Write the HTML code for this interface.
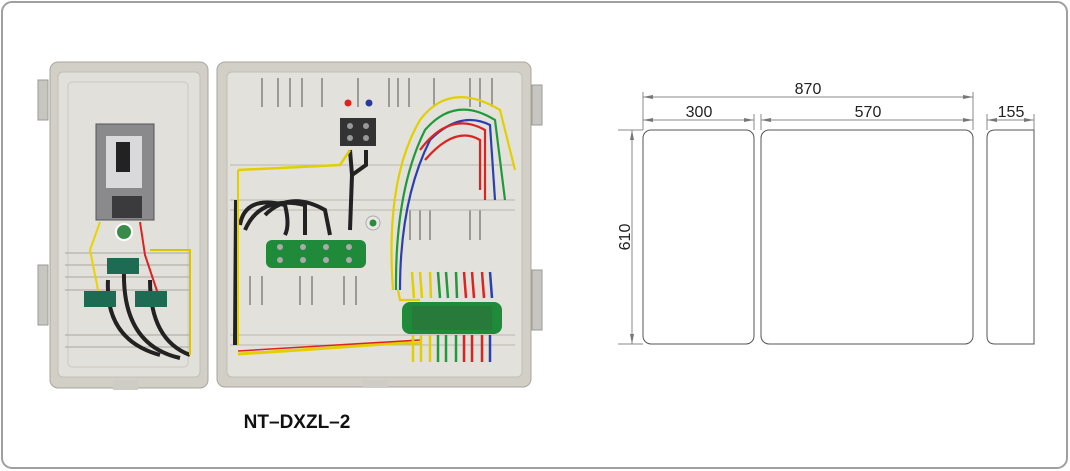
<!DOCTYPE html>
<html><head><meta charset="utf-8"><style>
html,body{margin:0;padding:0;background:#fff}
body{width:1070px;height:471px;overflow:hidden;position:relative;font-family:"Liberation Sans",sans-serif}
</style></head><body>
<svg width="1070" height="471" viewBox="0 0 1070 471" xmlns="http://www.w3.org/2000/svg" style="position:absolute;left:0;top:0">
<rect x="2" y="2" width="1065" height="466" rx="10" fill="#fff" stroke="#a0a0a0" stroke-width="2"/>
<rect x="50" y="62" width="158" height="326" rx="8" fill="#d2cfc7" stroke="#a9a69e"/>
<rect x="58" y="72" width="142" height="305" rx="5" fill="#e2e0da" stroke="#c2bfb7"/>
<rect x="68" y="82" width="120" height="285" rx="4" fill="none" stroke="#cac7c0"/>
<g stroke="#a9a6a0" stroke-width="1"><line x1="65" y1="253" x2="190" y2="253"/><line x1="65" y1="265" x2="190" y2="265"/><line x1="65" y1="277" x2="190" y2="277"/><line x1="65" y1="290" x2="190" y2="290"/><line x1="65" y1="335" x2="190" y2="335"/><line x1="65" y1="347" x2="190" y2="347"/></g>
<rect x="96" y="124" width="58" height="96" fill="#8a8a8c" stroke="#555"/>
<rect x="106" y="136" width="36" height="52" fill="#d9d9dc"/>
<rect x="116" y="142" width="14" height="30" fill="#222"/>
<rect x="112" y="196" width="30" height="22" fill="#3b3b3d"/>
<circle cx="124" cy="232" r="8" fill="#3a8a4a" stroke="#fff" stroke-width="2"/>
<g fill="none" stroke-width="4" stroke="#222"><path d="M108 280 Q105 340 160 355"/><path d="M124 270 Q122 345 180 358"/><path d="M150 280 Q150 340 190 355"/></g>
<g fill="none" stroke-width="2"><path d="M100 222 L90 250 L100 300" stroke="#e8d400"/><path d="M140 222 L145 255 L160 300" stroke="#d22"/><path d="M150 250 L190 250 L190 355" stroke="#d8c400"/></g>
<rect x="84" y="291" width="32" height="16" fill="#1e6b54"/>
<rect x="107" y="258" width="32" height="16" fill="#1e6b54"/>
<rect x="135" y="291" width="32" height="16" fill="#1e6b54"/>
<rect x="113" y="380" width="25" height="10" fill="#cfccc5"/>
<rect x="38" y="80" width="10" height="40" fill="#c8c6c0" stroke="#999"/>
<rect x="38" y="265" width="10" height="60" fill="#c8c6c0" stroke="#999"/>
<rect x="217" y="62" width="314" height="325" rx="8" fill="#d2cfc7" stroke="#a9a69e"/>
<rect x="227" y="72" width="295" height="305" rx="5" fill="#e3e1db" stroke="#c2bfb7"/>
<g stroke="#6c6a66" stroke-width="1.2"><line x1="262" y1="78" x2="262" y2="107"/><line x1="278" y1="78" x2="278" y2="107"/><line x1="290" y1="78" x2="290" y2="107"/><line x1="302" y1="78" x2="302" y2="107"/><line x1="322" y1="78" x2="322" y2="107"/><line x1="358" y1="78" x2="358" y2="107"/><line x1="389" y1="78" x2="389" y2="107"/><line x1="398" y1="78" x2="398" y2="107"/><line x1="409" y1="78" x2="409" y2="107"/><line x1="434" y1="78" x2="434" y2="107"/><line x1="470" y1="78" x2="470" y2="107"/><line x1="480" y1="78" x2="480" y2="107"/><line x1="492" y1="78" x2="492" y2="107"/>
<line x1="250" y1="276" x2="250" y2="305"/><line x1="262" y1="276" x2="262" y2="305"/><line x1="300" y1="276" x2="300" y2="305"/><line x1="312" y1="276" x2="312" y2="305"/><line x1="344" y1="276" x2="344" y2="305"/><line x1="356" y1="276" x2="356" y2="305"/><line x1="410" y1="210" x2="410" y2="240"/><line x1="420" y1="210" x2="420" y2="240"/><line x1="430" y1="210" x2="430" y2="240"/><line x1="470" y1="210" x2="470" y2="240"/><line x1="480" y1="210" x2="480" y2="240"/></g>
<g stroke="#b9b6ae"><line x1="230" y1="165" x2="515" y2="165"/><line x1="230" y1="200" x2="515" y2="200"/><line x1="230" y1="210" x2="515" y2="210"/><line x1="230" y1="335" x2="515" y2="335"/><line x1="230" y1="345" x2="515" y2="345"/></g>
<circle cx="348" cy="103" r="3.5" fill="#d22"/><circle cx="369" cy="103" r="3.5" fill="#2a3a9a"/>
<rect x="340" y="118" width="36" height="28" fill="#333"/>
<circle cx="350" cy="126" r="3" fill="#999"/><circle cx="366" cy="126" r="3" fill="#999"/><circle cx="350" cy="138" r="3" fill="#999"/><circle cx="366" cy="138" r="3" fill="#999"/>
<g fill="none" stroke="#222" stroke-width="4"><path d="M240 225 Q245 195 285 205 Q290 225 285 235"/><path d="M245 230 Q260 195 305 205 L305 235"/><path d="M265 215 Q290 190 325 210 L330 235"/><path d="M350 150 L352 175 L350 230"/><path d="M366 150 L366 165 L352 175"/><path d="M236 200 L235 345"/></g>
<path d="M238 170 L340 165 L350 150" fill="none" stroke="#e2cf00" stroke-width="2.5"/>
<path d="M238 170 L238 345" fill="none" stroke="#e2cf00" stroke-width="2"/>
<path d="M238 354 L300 350 L400 343 L420 343" fill="none" stroke="#e2cf00" stroke-width="3"/>
<path d="M238 351 L420 340" fill="none" stroke="#d22" stroke-width="1.5"/>
<rect x="266" y="240" width="100" height="28" rx="6" fill="#1f8a3a"/>
<g fill="#aaa"><circle cx="280" cy="247" r="3"/><circle cx="303" cy="247" r="3"/><circle cx="326" cy="247" r="3"/><circle cx="349" cy="247" r="3"/><circle cx="280" cy="260" r="3"/><circle cx="303" cy="260" r="3"/><circle cx="326" cy="260" r="3"/><circle cx="349" cy="260" r="3"/></g>
<circle cx="373" cy="223" r="7" fill="#e8e8e8" stroke="#aaa"/><circle cx="373" cy="223" r="3.5" fill="#2c8a3a"/>
<g fill="none" stroke-width="2.2"><path d="M393 290 Q385 180 420 120 Q450 80 500 110 L515 170" stroke="#e2cf00"/><path d="M396 290 Q395 190 425 130 Q455 95 495 120 L505 200" stroke="#1f9a3a"/><path d="M400 290 Q400 200 430 140 Q460 110 490 125 L495 200" stroke="#2a40b0"/><path d="M420 150 Q450 110 485 130 L485 200" stroke="#d22"/><path d="M425 160 Q455 125 480 140 L480 190" stroke="#d22"/><path d="M398 290 L400 300 L420 300" stroke="#e2cf00"/></g>
<g stroke-width="2.5"><line x1="412" y1="272" x2="414" y2="298" stroke="#e2cf00"/><line x1="420" y1="272" x2="422" y2="298" stroke="#e2cf00"/><line x1="430" y1="272" x2="431" y2="298" stroke="#e2cf00"/><line x1="438" y1="272" x2="440" y2="298" stroke="#1f9a3a"/><line x1="446" y1="272" x2="448" y2="298" stroke="#1f9a3a"/><line x1="456" y1="272" x2="457" y2="298" stroke="#1f9a3a"/><line x1="464" y1="272" x2="466" y2="298" stroke="#d22"/><line x1="472" y1="272" x2="474" y2="298" stroke="#d22"/><line x1="482" y1="272" x2="484" y2="298" stroke="#d22"/><line x1="490" y1="272" x2="492" y2="298" stroke="#2a40b0"/>
<line x1="413" y1="335" x2="413" y2="362" stroke="#e2cf00"/><line x1="421" y1="335" x2="421" y2="362" stroke="#e2cf00"/><line x1="430" y1="335" x2="430" y2="362" stroke="#e2cf00"/><line x1="438" y1="335" x2="438" y2="362" stroke="#1f9a3a"/><line x1="446" y1="335" x2="446" y2="362" stroke="#1f9a3a"/><line x1="456" y1="335" x2="456" y2="362" stroke="#1f9a3a"/><line x1="464" y1="335" x2="464" y2="362" stroke="#d22"/><line x1="472" y1="335" x2="472" y2="362" stroke="#d22"/><line x1="482" y1="335" x2="482" y2="362" stroke="#d22"/><line x1="490" y1="335" x2="490" y2="362" stroke="#2a40b0"/></g>
<rect x="402" y="302" width="100" height="32" rx="8" fill="#1f8a3a"/>
<rect x="412" y="306" width="80" height="24" fill="#2e6f3a" opacity="0.6"/>
<rect x="363" y="380" width="25" height="8" fill="#cfccc5"/>
<rect x="532" y="85" width="10" height="40" fill="#c8c6c0" stroke="#999"/>
<rect x="532" y="270" width="10" height="60" fill="#c8c6c0" stroke="#999"/>
<text x="297" y="428" font-family="Liberation Sans, sans-serif" font-size="19" font-weight="bold" text-anchor="middle" fill="#111">NT–DXZL–2</text>
<g fill="none" stroke="#555" stroke-width="1">
<rect x="643" y="130" width="111" height="214" rx="8"/>
<rect x="761" y="130" width="212" height="214" rx="8"/>
<path d="M1034 130 L995 130 Q987 130 987 138 L987 336 Q987 344 995 344 L1034 344 Z"/>
<g stroke="#888"><line x1="643" y1="92" x2="643" y2="130"/><line x1="973" y1="92" x2="973" y2="130"/><line x1="754" y1="114" x2="754" y2="130"/><line x1="761" y1="114" x2="761" y2="130"/><line x1="987" y1="114" x2="987" y2="130"/><line x1="1034" y1="114" x2="1034" y2="130"/><line x1="618" y1="130" x2="643" y2="130"/><line x1="618" y1="344" x2="643" y2="344"/>
<line x1="643" y1="97" x2="973" y2="97"/><line x1="643" y1="120" x2="754" y2="120"/><line x1="761" y1="120" x2="973" y2="120"/><line x1="987" y1="120" x2="1034" y2="120"/><line x1="632" y1="130" x2="632" y2="344"/></g>
</g>
<g fill="#777"><path d="M643 97 l10 -2 v4z"/><path d="M973 97 l-10 -2 v4z"/><path d="M643 120 l10 -2 v4z"/><path d="M754 120 l-10 -2 v4z"/><path d="M761 120 l10 -2 v4z"/><path d="M973 120 l-10 -2 v4z"/><path d="M987 120 l10 -2 v4z"/><path d="M1034 120 l-10 -2 v4z"/><path d="M632 130 l-2 10 h4z"/><path d="M632 344 l-2 -10 h4z"/></g>
<g font-family="Liberation Sans, sans-serif" font-size="16" fill="#222" text-anchor="middle">
<text x="808" y="94">870</text><text x="699" y="117">300</text><text x="868" y="117">570</text><text x="1011" y="117">155</text>
<text x="0" y="0" transform="translate(630 237) rotate(-90)">610</text></g>
</svg>
</body></html>
